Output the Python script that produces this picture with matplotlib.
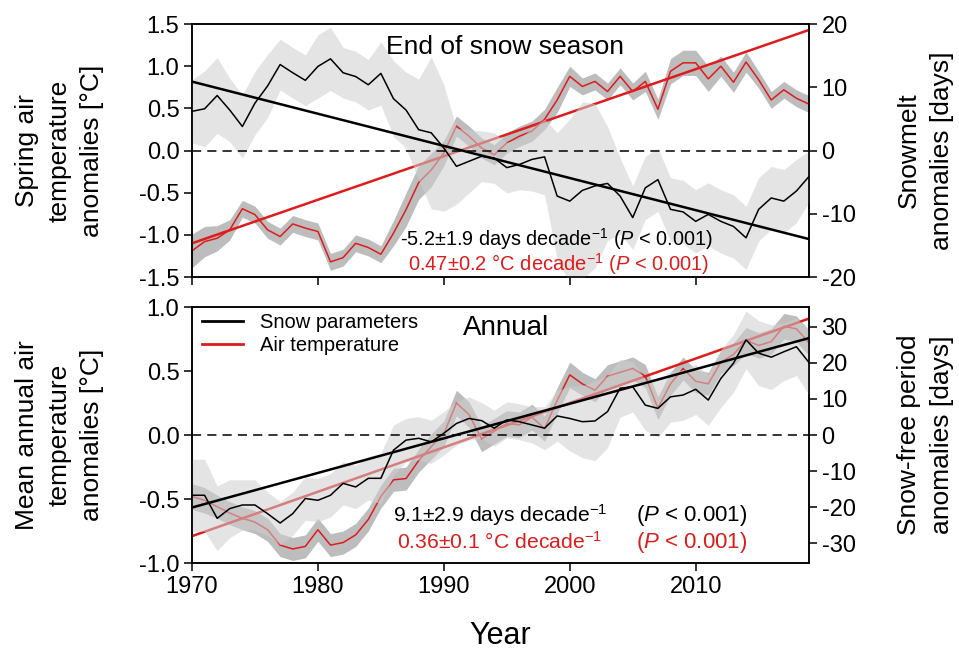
import numpy as np
import matplotlib
matplotlib.use("Agg")
import matplotlib.pyplot as plt
from matplotlib.ticker import FormatStrFormatter
from matplotlib.lines import Line2D

plt.rcParams['font.family'] = ['Liberation Sans', 'DejaVu Sans']
plt.rcParams['mathtext.fontset'] = 'custom'
plt.rcParams['mathtext.rm'] = 'Liberation Sans'
plt.rcParams['mathtext.it'] = 'Liberation Sans:italic'
plt.rcParams['axes.unicode_minus'] = False

years = np.arange(1970, 2020)

# End of snow season: spring air temperature (degC, left) and snowmelt (days, right)
spring_temp = [-1.19, -1.08, -1.04, -0.94, -0.69, -0.76, -0.94, -1.02, -0.87, -0.92,
               -0.96, -1.32, -1.27, -1.10, -1.15, -1.23, -0.98, -0.70, -0.38, -0.23,
               -0.03, 0.29, 0.17, 0.03, -0.05, 0.09, 0.17, 0.23, 0.37, 0.60,
               0.88, 0.76, 0.82, 0.70, 0.88, 0.70, 0.82, 0.49, 0.94, 1.04,
               1.04, 0.85, 1.00, 0.81, 1.05, 0.84, 0.60, 0.72, 0.62, 0.55]
spring_temp_sd = [0.20, 0.18, 0.15, 0.12, 0.10, 0.10, 0.10, 0.10, 0.10, 0.10,
                  0.10, 0.10, 0.10, 0.10, 0.10, 0.10, 0.15, 0.20, 0.20, 0.20,
                  0.15, 0.12, 0.12, 0.12, 0.12, 0.12, 0.12, 0.12, 0.12, 0.15,
                  0.12, 0.10, 0.10, 0.10, 0.10, 0.10, 0.12, 0.12, 0.15, 0.15,
                  0.15, 0.15, 0.12, 0.12, 0.12, 0.10, 0.10, 0.10, 0.10, 0.10]
snowmelt = [6.2, 6.6, 8.7, 6.4, 3.8, 7.5, 10.2, 13.6, 12.3, 11.1,
            13.3, 14.5, 12.3, 11.7, 10.4, 12.2, 8.2, 6.4, 3.3, 2.8,
            0.4, -2.5, -1.7, -0.9, -1.2, -2.7, -2.2, -1.4, -1.0, -7.2,
            -8.0, -6.3, -5.6, -5.2, -7.2, -10.6, -5.9, -4.6, -9.3, -9.7,
            -11.2, -10.1, -11.2, -12.0, -13.8, -9.3, -7.5, -8.0, -6.4, -4.1]
snowmelt_sd = [5, 6, 6, 5, 5, 5, 5, 4, 4, 4,
               5, 5, 4, 4, 4, 5, 6, 6, 8, 12,
               10, 6, 5, 4, 4, 4, 4, 5, 6, 10,
               13, 14, 13, 9, 6, 5, 5, 5, 5, 5,
               5, 5, 5, 5, 5, 5, 5, 5, 5, 4]
spring_temp_trend = [-1.10, 1.43]
snowmelt_trend = [10.9, -14.0]

# Annual: mean annual air temperature (degC, left) and snow-free period (days, right)
annual_temp = [-0.48, -0.51, -0.56, -0.61, -0.65, -0.68, -0.74, -0.86, -0.89, -0.87,
               -0.74, -0.86, -0.84, -0.78, -0.66, -0.48, -0.35, -0.34, -0.20, -0.09,
               0.01, 0.25, 0.16, -0.03, 0.03, 0.09, 0.08, 0.14, 0.05, 0.27,
               0.47, 0.40, 0.35, 0.46, 0.49, 0.52, 0.46, 0.21, 0.40, 0.52,
               0.42, 0.40, 0.57, 0.63, 0.74, 0.70, 0.73, 0.85, 0.83, 0.72]
annual_temp_sd = [0.10, 0.10, 0.09, 0.09, 0.09, 0.09, 0.09, 0.09, 0.09, 0.09,
                  0.09, 0.09, 0.09, 0.09, 0.09, 0.09, 0.09, 0.09, 0.09, 0.10,
                  0.10, 0.10, 0.10, 0.10, 0.10, 0.10, 0.10, 0.10, 0.10, 0.10,
                  0.10, 0.09, 0.09, 0.09, 0.09, 0.09, 0.09, 0.09, 0.09, 0.09,
                  0.09, 0.09, 0.09, 0.09, 0.10, 0.10, 0.10, 0.10, 0.10, 0.10]
snowfree = [-16.7, -16.7, -23.1, -20.4, -19.4, -19.4, -21.8, -24.4, -21.8, -17.6,
            -18.1, -16.7, -13.4, -14.4, -12.0, -12.0, -4.2, -1.4, -0.9, -1.9,
            0.5, 3.2, 4.6, 4.0, 1.9, 4.2, 3.7, 2.8, 1.9, 5.3,
            4.6, 3.7, 3.9, 6.5, 13.0, 13.4, 8.3, 7.4, 10.6, 11.1,
            12.7, 9.7, 15.7, 19.9, 26.4, 22.7, 21.6, 23.1, 24.5, 20.1]
snowfree_sd = [10, 10, 9, 8, 7, 7, 6, 6, 6, 6,
               6, 6, 6, 6, 6, 7, 7, 6, 6, 6,
               6, 6, 6, 5, 5, 5, 5, 5, 6, 7,
               9, 10, 11, 10, 8, 7, 7, 8, 7, 7,
               7, 7, 8, 8, 8, 9, 9, 8, 8, 9]
annual_temp_trend = [-0.79, 0.91]
snowfree_trend = [-20.1, 26.9]

trend_years = [1970, 2019]

red = '#dd1c1c'
band_red = '#bdbdbd'
band_black = '#cfcfcf'

fig = plt.figure(figsize=(9.59, 6.5), dpi=100)
ax_top = fig.add_axes([0.2002, 0.5738, 0.6434, 0.3892])
ax_bot = fig.add_axes([0.2002, 0.1338, 0.6434, 0.3938])


def draw_panel(ax, temp, temp_sd, temp_trend, snow, snow_sd, snow_trend, t_lim, d_lim):
    temp = np.array(temp)
    temp_sd = np.array(temp_sd)
    snow = np.array(snow)
    snow_sd = np.array(snow_sd)
    ax.fill_between(years, temp - temp_sd, temp + temp_sd, color=band_red, lw=0, zorder=1)
    ax.plot(years, temp, color=red, lw=1.1, zorder=2)
    ax.plot(trend_years, temp_trend, color=red, lw=1.8, zorder=3)
    ax.set_ylim(t_lim)
    ax.set_xlim(1970, 2019)
    ax2 = ax.twinx()
    ax2.fill_between(years, snow - snow_sd, snow + snow_sd, color=band_black,
                     alpha=0.55, lw=0, zorder=1)
    ax2.axhline(0, color='black', lw=1.1, ls=(0, (6, 4)), zorder=2)
    ax2.plot(years, snow, color='black', lw=1.1, zorder=3)
    ax2.plot(trend_years, snow_trend, color='black', lw=1.8, zorder=4)
    ax2.set_ylim(d_lim)
    for a in (ax, ax2):
        for s in a.spines.values():
            s.set_linewidth(1.1)
        a.tick_params(direction='out', length=6, width=1.1, labelsize=17, pad=3)
    ax.set_xticks([1970, 1980, 1990, 2000, 2010])
    ax.yaxis.set_major_formatter(FormatStrFormatter('%.1f'))
    return ax2


ax2_top = draw_panel(ax_top, spring_temp, spring_temp_sd, spring_temp_trend,
                     snowmelt, snowmelt_sd, snowmelt_trend, (-1.5, 1.5), (-20, 20))
ax2_bot = draw_panel(ax_bot, annual_temp, annual_temp_sd, annual_temp_trend,
                     snowfree, snowfree_sd, snowfree_trend, (-1.0, 1.0), (-35.5, 35.5))

ax_top.set_yticks(np.arange(-1.5, 1.51, 0.5))
ax2_top.set_yticks([-20, -10, 0, 10, 20])
ax_top.tick_params(axis='x', labelbottom=False)
ax_bot.set_yticks(np.arange(-1.0, 1.01, 0.5))
ax2_bot.set_yticks([-30, -20, -10, 0, 10, 20, 30])

ax_top.set_ylabel('Spring air\ntemperature\nanomalies [°C]', fontsize=19, linespacing=1.45)
ax_top.yaxis.set_label_coords(-0.143, 0.5)
ax2_top.set_ylabel('Snowmelt\nanomalies [days]', fontsize=19, linespacing=1.5)
ax2_top.yaxis.set_label_coords(1.142, 0.5)
ax_bot.set_ylabel('Mean annual air\ntemperature\nanomalies [°C]', fontsize=19, linespacing=1.45)
ax_bot.yaxis.set_label_coords(-0.143, 0.5)
ax2_bot.set_ylabel('Snow-free period\nanomalies [days]', fontsize=19, linespacing=1.5)
ax2_bot.yaxis.set_label_coords(1.142, 0.5)
ax_bot.set_xlabel('Year', fontsize=22)
ax_bot.xaxis.set_label_coords(0.5, -0.225)

ax2_top.text(0.507, 0.91, 'End of snow season', transform=ax2_top.transAxes,
             ha='center', va='center', fontsize=19)
ax2_bot.text(0.509, 0.918, 'Annual', transform=ax2_bot.transAxes,
             ha='center', va='center', fontsize=20)

ax2_top.text(0.337, 0.152, '-5.2±1.9 days decade$^{-1}$ ($\\it{P}$ < 0.001)',
             transform=ax2_top.transAxes, ha='left', va='center', fontsize=14.3)
ax2_top.text(0.350, 0.052, '0.47±0.2 °C decade$^{-1}$ ($\\it{P}$ < 0.001)',
             transform=ax2_top.transAxes, ha='left', va='center', fontsize=14.5, color=red)

ax2_bot.text(0.326, 0.1875, '9.1±2.9 days decade$^{-1}$',
             transform=ax2_bot.transAxes, ha='left', va='center', fontsize=15.2)
ax2_bot.text(0.719, 0.1875, '($\\it{P}$ < 0.001)',
             transform=ax2_bot.transAxes, ha='left', va='center', fontsize=16)
ax2_bot.text(0.333, 0.082, '0.36±0.1 °C decade$^{-1}$',
             transform=ax2_bot.transAxes, ha='left', va='center', fontsize=15.2, color=red)
ax2_bot.text(0.719, 0.082, '($\\it{P}$ < 0.001)',
             transform=ax2_bot.transAxes, ha='left', va='center', fontsize=16, color=red)

handles = [Line2D([], [], color='black', lw=2), Line2D([], [], color=red, lw=2)]
ax2_bot.legend(handles, ['Snow parameters', 'Air temperature'], loc='upper left',
               bbox_to_anchor=(0.017, 0.975), frameon=False, fontsize=14.5,
               handlelength=2.0, handletextpad=0.85, labelspacing=0.2,
               borderaxespad=0, borderpad=0)

fig.savefig('out.png', dpi=100)
